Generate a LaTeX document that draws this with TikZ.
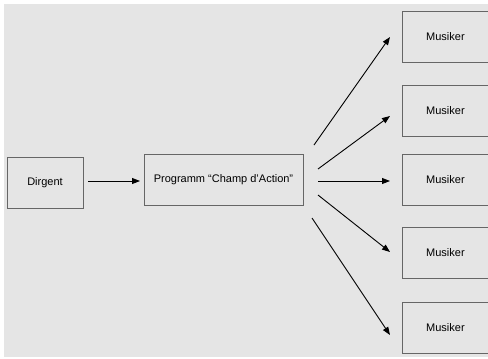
\documentclass[tikz,border=0pt]{standalone}
\usepackage{fontspec}
\setmainfont{Liberation Sans}
\usetikzlibrary{arrows.meta}
\begin{document}
\begin{tikzpicture}[x=1pt,y=-1pt,
  box/.style={draw=black!60,line width=0.9pt,inner sep=0pt,font=\fontsize{11}{13}\selectfont},
  arr/.style={draw=black,line width=0.9pt,-{Triangle[length=8pt,width=6pt]}}]
\useasboundingbox (0,0) rectangle (488,359);
\fill[white] (0,0) rectangle (488,359);
\fill[black!10] (4,4) rectangle (488,357);
\node[box,minimum width=76pt,minimum height=51pt] (dir) at (45,182.5) {Dirgent};
\node[box,minimum width=159pt,minimum height=51pt] (prog) at (223.5,179.5) {Programm “Champ d’Action”};
\foreach \i/\y in {1/37,2/110.5,3/179.5,4/252.5,5/327.5}{
  \node[box,minimum width=90pt,minimum height=51pt,anchor=west] (m\i) at (402,\y) {\hspace*{-4pt}Musiker};
}
\coordinate (d0) at (88,181);
\coordinate (d1) at (140,181);
\coordinate (s1) at (314,145);
\coordinate (s2) at (318,169);
\coordinate (s3) at (318,181);
\coordinate (s4) at (318,195);
\coordinate (s5) at (312,218);
\coordinate (e1) at (390,37);
\coordinate (e2) at (390,116);
\coordinate (e3) at (390,181);
\coordinate (e4) at (390,252);
\coordinate (e5) at (390,335);
\draw[arr] (d0) -- (d1);
\foreach \i in {1,...,5}{\draw[arr] (s\i) -- (e\i);}
\end{tikzpicture}
\end{document}
